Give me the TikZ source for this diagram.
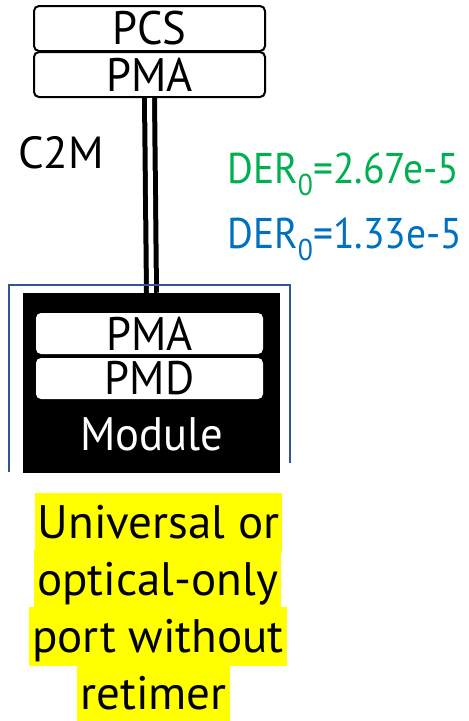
\documentclass[tikz,border=0pt]{standalone}
\usepackage{fontspec}
\setmainfont{PT Sans}
\newfontfamily\narrowfont[FakeStretch=0.95]{PT Sans}
\newfontfamily\derfont[FakeStretch=0.92]{PT Sans}
\definecolor{dergreen}{HTML}{00B050}
\definecolor{derblue}{HTML}{0070C0}
\definecolor{portblue}{HTML}{2F5597}
\definecolor{hilite}{HTML}{FFFF00}
\tikzset{
  layer/.style={draw=black, line width=2pt, rounded corners=5pt, fill=white,
    inner sep=0pt, font=\narrowfont\fontsize{47}{47}\selectfont},
  inlayer/.style={draw=none, rounded corners=5pt, fill=white,
    inner sep=0pt, font=\narrowfont\fontsize{47}{47}\selectfont},
  hl/.style={fill=hilite, inner xsep=3pt, inner ysep=0pt, text height=45pt,
    text depth=14pt, anchor=base, font=\fontsize{47}{47}\selectfont},
  lbl/.style={inner sep=0pt, anchor=base west, font=\derfont\fontsize{43}{43}\selectfont},
}
\begin{document}
\begin{tikzpicture}[x=1pt,y=-1pt]
\useasboundingbox (0,0) rectangle (469,721);

% host-side sublayers
\node[layer, minimum width=231pt, minimum height=45pt] (pcs) at (149.5,28.5) {PCS};
\node[layer, minimum width=231pt, minimum height=45pt] (pma) at (149.5,74.5) {PMA};

% module body
\node[fill=black, minimum width=257pt, minimum height=180pt, inner sep=0pt] (module) at (151.5,383) {};
\node[inlayer, minimum width=227pt, minimum height=41pt] (mpma) at (149.5,333.5) {PMA};
\node[inlayer, minimum width=227pt, minimum height=41pt] (mpmd) at (149.5,378.5) {PMD};
\node[inner sep=0pt, anchor=base, text=white, font=\narrowfont\fontsize{47}{47}\selectfont] (mname) at (152,450) {Module};

% C2M electrical link
\draw[line width=5pt, double=white, double distance=5pt] (pma.south) -- (module.north);

% port outline
\coordinate (pl) at (9,472);
\coordinate (pr) at (290,463);
\draw[portblue, line width=2pt] (pl) -- (pl |- 0,285) -- (pr |- 0,285) -- (pr);

% labels
\node[lbl, font=\fontsize{45}{45}\selectfont] (c2m) at (18,168) {C2M};
\node[lbl, text=dergreen] (der1) at (227,183) {DER\textsubscript{0}=2.67e-5};
\node[lbl, text=derblue] (der2) at (227,248) {DER\textsubscript{0}=1.33e-5};

% caption
\node[hl] (cap1) at (158.5,538) {Universal or\ };
\node[hl] (cap2) at (157.5,595) {optical-only\ };
\node[hl] (cap3) at (158,652) {port without\ };
\node[hl] (cap4) at (153.5,709) {retimer};
\end{tikzpicture}
\end{document}
